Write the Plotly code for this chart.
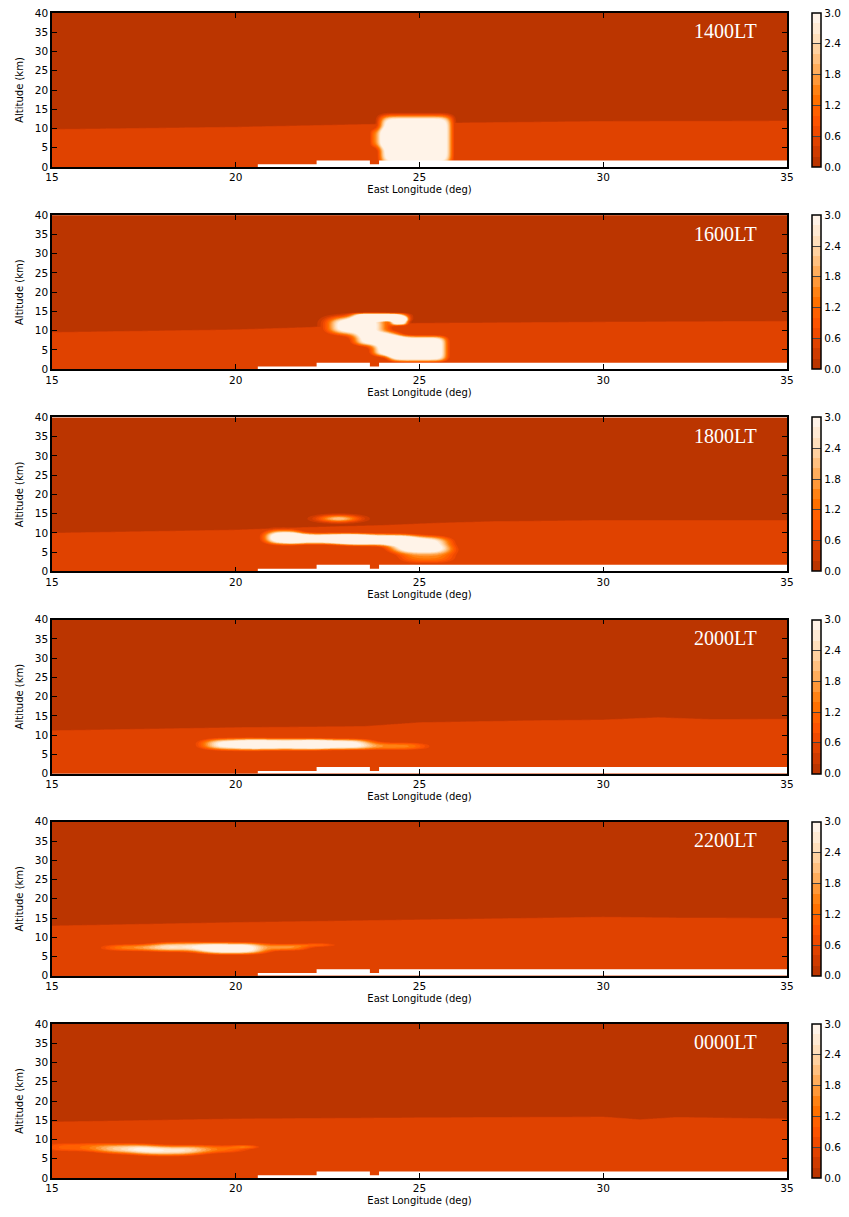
import numpy as np
import plotly.graph_objects as go

# ---------------- data ----------------
times = ["1400LT", "1600LT", "1800LT", "2000LT", "2200LT", "0000LT"]
lon_ticks = [15, 20, 25, 30, 35]
alt_ticks = [0, 5, 10, 15, 20, 25, 30, 35, 40]
cbar_ticks = [0.0, 0.6, 1.2, 1.8, 2.4, 3.0]
level_colors = ["#bb3500", "#cf3b00", "#e04200", "#f04a00", "#fd5300",
                "#ff6000", "#ff7000", "#ff8214", "#ff9838", "#ffad5c",
                "#ffc080", "#ffd1a0", "#ffdfbc", "#ffead4", "#fff3e8"]

# surface (white mask) step heights
terrain_lon = [15, 20.6, 22.2, 23.65, 23.9, 35]
terrain_alt = [0, 0.7, 1.7, 0.7, 1.7, 1.7]

# tropopause-like boundary between the two background values
trop_lon_1400 = [15, 20, 23.5, 26, 30, 35]
trop_alt_1400 = [9.8, 10.4, 11.1, 11.5, 11.9, 12.0]
trop_lon_1600 = [15, 20, 22, 23, 25, 27, 30, 35]
trop_alt_1600 = [9.6, 10.3, 10.9, 11.5, 12.0, 12.1, 12.3, 12.5]
trop_lon_1800 = [15, 20, 22, 24, 25.5, 27, 30, 35]
trop_alt_1800 = [10.0, 10.8, 11.5, 12.0, 12.6, 13.0, 13.3, 13.3]
trop_lon_2000 = [15, 20, 23.5, 25, 28, 30, 31.5, 33, 35]
trop_alt_2000 = [11.2, 12.0, 12.3, 13.3, 13.8, 14.0, 14.6, 14.1, 14.2]
trop_lon_2200 = [15, 20, 25, 28, 30, 32, 35]
trop_alt_2200 = [13.0, 13.9, 14.6, 15.0, 15.3, 15.1, 15.0]
trop_lon_0000 = [15, 20, 25, 30, 31, 32, 35]
trop_alt_0000 = [14.6, 15.4, 15.7, 15.9, 15.2, 15.8, 15.4]

# cloud blobs: (lon, alt, half-width lon, half-height alt, peak, shape power)
clouds_1400 = [(24.9, 7.0, 0.96, 6.2, 4.0, 8), (23.9, 7.5, 0.25, 2.5, 1.4, 4)]
clouds_1600 = [(23.3, 11.3, 0.75, 2.2, 4.0, 3), (23.9, 13.5, 0.7, 0.95, 4.0, 4),
               (24.45, 12.6, 0.22, 1.1, 4.0, 3), (23.85, 7.9, 0.6, 1.7, 4.0, 3),
               (24.95, 5.3, 0.78, 3.2, 4.0, 6), (24.25, 5.0, 0.5, 1.6, 4.0, 3)]
clouds_1800 = [(21.3, 8.9, 0.5, 1.7, 3.6, 2.5), (22.4, 8.5, 1.1, 1.3, 3.6, 3),
               (23.8, 8.2, 1.0, 1.4, 3.6, 3), (25.0, 7.0, 0.8, 2.0, 3.6, 3),
               (25.2, 4.3, 0.8, 2.2, 1.5, 3), (22.8, 13.7, 0.55, 0.9, 2.2, 2)]
clouds_2000 = [(19.9, 7.6, 0.8, 1.4, 3.3, 2.5), (21.3, 7.6, 1.0, 1.4, 3.5, 3),
               (22.8, 7.6, 0.9, 1.3, 3.3, 3), (24.4, 7.1, 0.9, 1.0, 1.5, 2.5)]
clouds_2200 = [(17.2, 7.3, 0.9, 0.9, 1.5, 2.5), (18.5, 7.5, 0.8, 1.2, 2.4, 2.5),
               (19.9, 7.1, 0.9, 1.4, 3.6, 3), (21.4, 7.4, 0.6, 0.9, 1.6, 2.5),
               (22.3, 8.0, 0.55, 0.6, 1.0, 2)]
clouds_0000 = [(15.6, 8.0, 0.9, 1.2, 1.1, 3), (17.0, 7.6, 0.8, 1.3, 2.2, 2.5),
               (18.2, 7.1, 0.9, 1.3, 2.5, 2.5), (19.5, 7.5, 0.9, 1.1, 1.2, 2.5),
               (20.3, 8.1, 0.4, 0.5, 0.9, 2)]

panels = [
    (trop_lon_1400, trop_alt_1400, clouds_1400),
    (trop_lon_1600, trop_alt_1600, clouds_1600),
    (trop_lon_1800, trop_alt_1800, clouds_1800),
    (trop_lon_2000, trop_alt_2000, clouds_2000),
    (trop_lon_2200, trop_alt_2200, clouds_2200),
    (trop_lon_0000, trop_alt_0000, clouds_0000),
]

above_value = 0.1
below_value = 0.5

# ---------------- field construction ----------------
lon = np.round(np.arange(15, 35.0001, 0.05), 3)
alt = np.concatenate([np.round(np.arange(0, 17.001, 0.1), 3), np.arange(18, 40.1, 2.0)])
LON, ALT = np.meshgrid(lon, alt)


def build_field(tlon, talt, clouds):
    trop = np.interp(lon, tlon, talt)[None, :]
    ramp = np.clip((trop - ALT) / 0.3 + 0.5, 0, 1)
    base = above_value + (below_value - above_value) * ramp
    cl = np.zeros_like(ALT)
    for (cx, cy, a, b, peak, n) in clouds:
        s = np.abs((LON - cx) / a) ** n + np.abs((ALT - cy) / b) ** n
        cl += peak * np.exp(-s)
    return np.round(np.maximum(base, cl), 3).astype(np.float32)


nlev = len(level_colors)
# colourscale for the contour fills (robust to level / mid-level lookup)
cs_fill = []
bounds = [0.0] + [(k + 1.25) / 16 for k in range(nlev - 1)] + [1.0]
for k, c in enumerate(level_colors):
    cs_fill.append([bounds[k], c])
    cs_fill.append([bounds[k + 1], c])
# colourscale for the colour bar, 0..3 exactly
cs_bar = []
for k, c in enumerate(level_colors):
    cs_bar.append([k / nlev, c])
    cs_bar.append([(k + 1) / nlev, c])

# ---------------- layout geometry ----------------
W, H = 849, 1217
ml, mr, mt, mb = 52, 62, 13, 39
ph = H - mt - mb
pw = W - ml - mr
panel_h = 154
pitch = 202.2

fig = go.Figure()
font_fam = "DejaVu Sans"
layout = dict(
    width=W, height=H, margin=dict(l=ml, r=mr, t=mt, b=mb, autoexpand=False),
    paper_bgcolor="white", plot_bgcolor="white", showlegend=False,
    font=dict(family=font_fam, size=10, color="black"),
)
annotations = []

for i, (tlon, talt, clouds) in enumerate(panels):
    top_px = i * pitch
    bot_px = top_px + panel_h
    d0 = max(0.0, 1 - bot_px / ph)
    d1 = min(1.0, 1 - top_px / ph)
    xa = "x" if i == 0 else f"x{i+1}"
    ya = "y" if i == 0 else f"y{i+1}"
    z = build_field(tlon, talt, clouds)
    fig.add_trace(go.Contour(
        x=lon, y=alt, z=z, xaxis=xa, yaxis=ya,
        colorscale=cs_fill, autocontour=False, showscale=False,
        contours=dict(start=0, end=3.0, size=0.2, coloring="fill", showlines=False),
        line=dict(width=0), hoverinfo="skip",
    ))
    fig.add_trace(go.Scatter(
        x=terrain_lon, y=terrain_alt, xaxis=xa, yaxis=ya, mode="lines",
        line=dict(width=0, shape="hv", color="white"), fill="tozeroy",
        fillcolor="white", hoverinfo="skip", showlegend=False,
    ))
    # colour bar carrier (no visible markers)
    fig.add_trace(go.Scatter(
        x=[None, None], y=[None, None], xaxis=xa, yaxis=ya, mode="markers",
        hoverinfo="skip", showlegend=False,
        marker=dict(color=[0, 3], cmin=0, cmax=3, colorscale=cs_bar, showscale=True,
                    colorbar=dict(
                        x=(812 - ml) / pw, xanchor="left", xpad=0, y=d1, yanchor="top", ypad=0,
                        len=d1 - d0, lenmode="fraction", thickness=9,
                        outlinewidth=1.5, outlinecolor="black",
                        tickvals=cbar_ticks, ticktext=[f"{v:.1f}" for v in cbar_ticks],
                        ticks="inside", ticklen=9, tickcolor="#444444", tickwidth=1,
                        tickfont=dict(family=font_fam, size=10.5, color="black"),
                    )),
    ))
    axkey = "xaxis" if i == 0 else f"xaxis{i+1}"
    aykey = "yaxis" if i == 0 else f"yaxis{i+1}"
    layout[axkey] = dict(
        domain=[0, 1], anchor=ya, range=[15, 35], tickvals=lon_ticks,
        ticks="inside", ticklen=5, tickwidth=1, tickcolor="black",
        mirror="allticks", showline=True, linewidth=1.5, linecolor="black",
        showgrid=False, zeroline=False,
        tickfont=dict(family=font_fam, size=10.5),
        title=dict(text="East Longitude (deg)", font=dict(family=font_fam, size=10), standoff=4),
    )
    layout[aykey] = dict(
        domain=[d0, d1], anchor=xa, range=[0, 40], tickvals=alt_ticks,
        ticks="inside", ticklen=5, tickwidth=1, tickcolor="black",
        mirror="allticks", showline=True, linewidth=1.5, linecolor="black",
        showgrid=False, zeroline=False,
        tickfont=dict(family=font_fam, size=10.5),
        title=dict(text="Altitude (km)", font=dict(family=font_fam, size=10), standoff=9),
    )
    annotations.append(dict(
        text=times[i], xref=f"{xa} domain", yref=f"{ya} domain",
        x=0.962, y=0.88, xanchor="right", yanchor="middle", showarrow=False,
        font=dict(family="Liberation Serif", size=20, color="white"),
    ))

layout["annotations"] = annotations
fig.update_layout(**layout)
fig.write_html("out.html")
